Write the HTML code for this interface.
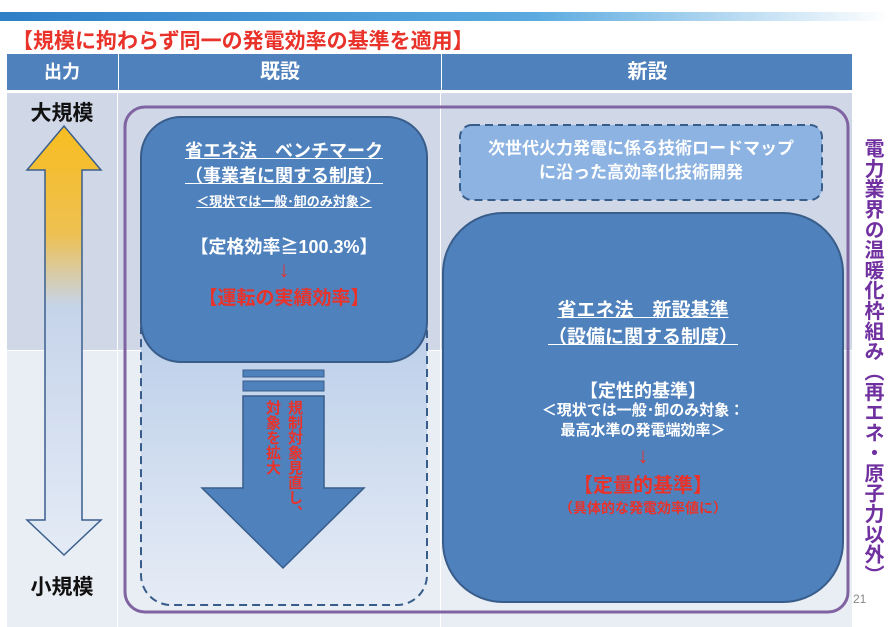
<!DOCTYPE html>
<html><head><meta charset="utf-8"><style>
body{margin:0;width:888px;height:627px;overflow:hidden;background:#fff;font-family:"Liberation Sans","Noto Sans CJK JP",sans-serif;position:relative}
.a{position:absolute}
.c{text-align:center;font-weight:bold}
.v{writing-mode:vertical-rl;font-weight:bold;white-space:nowrap}
</style></head><body>
<div class="a" style="left:0;top:12px;width:888px;height:9px;background:linear-gradient(90deg,#2f7fc8,#5aaae0 60%,#fff)"></div>
<div class="a" style="left:12px;top:25px;font-size:21px;font-weight:bold;color:#e8322a;white-space:nowrap">【規模に拘わらず同一の発電効率の基準を適用】</div>
<div class="a" style="left:7px;top:54px;width:845px;height:36px;background:#4f81bd"></div>
<div class="a c" style="left:7px;top:54px;width:110px;line-height:36px;color:#fff;font-size:18px">出力</div>
<div class="a c" style="left:118px;top:54px;width:322px;line-height:36px;color:#fff;font-size:20px;border-left:1px solid #fff">既設</div>
<div class="a c" style="left:441px;top:54px;width:411px;line-height:36px;color:#fff;font-size:20px;border-left:1px solid #fff">新設</div>
<div class="a" style="left:7px;top:93px;width:845px;height:257px;background:#d0d8e8"></div>
<div class="a" style="left:7px;top:351px;width:845px;height:276px;background:#e9edf4"></div>
<div class="a" style="left:117px;top:93px;width:1px;height:534px;background:#fff"></div>
<div class="a" style="left:440px;top:93px;width:1px;height:534px;background:#fff"></div>
<div class="a c" style="left:7px;top:97px;width:110px;font-size:21px;color:#111">大規模</div>
<div class="a c" style="left:7px;top:571px;width:110px;font-size:21px;color:#111">小規模</div>
<svg class="a" style="left:0;top:0" width="888" height="627">
<defs>
<linearGradient id="g1" x1="0" y1="0" x2="0" y2="1"><stop offset="0" stop-color="#f8bd20"/><stop offset="0.25" stop-color="#eec050"/><stop offset="0.42" stop-color="#c6d4ea"/><stop offset="1" stop-color="#e4ebf6"/></linearGradient>
<linearGradient id="g2" x1="0" y1="0" x2="0" y2="1"><stop offset="0" stop-color="#b8cce8"/><stop offset="1" stop-color="#e6ecf6"/></linearGradient>
</defs>
<path d="M64,126 L101,170 L82,170 L82,520 L101,520 L64,555 L27,520 L45,520 L45,170 L27,170 Z" fill="url(#g1)" stroke="#3a5f8e" stroke-width="1.5"/>
<rect x="141" y="300" width="286" height="305" rx="30" fill="url(#g2)" stroke="#385d8a" stroke-width="2" stroke-dasharray="8,5"/>
<rect x="141" y="117" width="286" height="245" rx="40" fill="#4f81bd" stroke="#385d8a" stroke-width="2"/>
<rect x="243" y="370" width="81" height="7" fill="#4f81bd" stroke="#385d8a"/>
<rect x="243" y="381" width="81" height="10" fill="#4f81bd" stroke="#385d8a"/>
<path d="M243,396 L324,396 L324,488 L364,488 L283,568 L202,488 L243,488 Z" fill="#4f81bd" stroke="#385d8a" stroke-width="1.5"/>
<rect x="125" y="107" width="723" height="505" rx="20" fill="none" stroke="#8064a2" stroke-width="3"/>
<rect x="460" y="125" width="362" height="75" rx="12" fill="#8db3e2" stroke="#385d8a" stroke-width="2" stroke-dasharray="8,5"/>
<rect x="443" y="213" width="400" height="389" rx="60" fill="#4f81bd" stroke="#385d8a" stroke-width="2"/>
</svg>
<div class="a c" style="left:141px;top:139px;width:286px;color:#fff;font-size:18px;line-height:25px"><span style="text-decoration:underline">省エネ法　ベンチマーク</span><br><span style="text-decoration:underline">（事業者に関する制度）</span></div>
<div class="a c" style="left:141px;top:191px;width:286px;color:#fff;font-size:13px;text-decoration:underline">＜現状では一般･卸のみ対象＞</div>
<div class="a c" style="left:141px;top:233px;width:286px;color:#fff;font-size:18px">【定格効率≧100.3%】</div>
<div class="a c" style="left:141px;top:257px;width:286px;color:#e8322a;font-size:22px">↓</div>
<div class="a c" style="left:141px;top:283px;width:286px;color:#e8322a;font-size:19px">【運転の実績効率】</div>
<div class="a v" style="left:284px;top:400px;font-size:15px;line-height:20px;color:#e8322a">規制対象見直し、</div>
<div class="a v" style="left:262px;top:400px;font-size:15px;line-height:20px;color:#e8322a">対象を拡大</div>
<div class="a c" style="left:460px;top:137px;width:362px;color:#fff;font-size:17px;line-height:24px">次世代火力発電に係る技術ロードマップ<br>に沿った高効率化技術開発</div>
<div class="a c" style="left:443px;top:297px;width:400px;color:#fff;font-size:19px;line-height:27px"><span style="text-decoration:underline">省エネ法　新設基準</span><br><span style="text-decoration:underline">（設備に関する制度）</span></div>
<div class="a c" style="left:443px;top:377px;width:400px;color:#fff;font-size:18px">【定性的基準】</div>
<div class="a c" style="left:443px;top:401px;width:400px;color:#fff;font-size:15px;line-height:20px">＜現状では一般･卸のみ対象：<br>最高水準の発電端効率＞</div>
<div class="a c" style="left:443px;top:443px;width:400px;color:#e8322a;font-size:22px">↓</div>
<div class="a c" style="left:443px;top:469px;width:400px;color:#e8322a;font-size:20px">【定量的基準】</div>
<div class="a c" style="left:443px;top:498px;width:400px;color:#e8322a;font-size:14px">（具体的な発電効率値に）</div>
<div class="a v" style="left:859px;top:138px;width:26px;font-size:20px;line-height:26px;letter-spacing:0.3px;color:#7030a0">電力業界の温暖化枠組み（再エネ・原子力以外）</div>
<div class="a" style="left:853px;top:592px;font-size:12px;color:#888">21</div>
</body></html>
